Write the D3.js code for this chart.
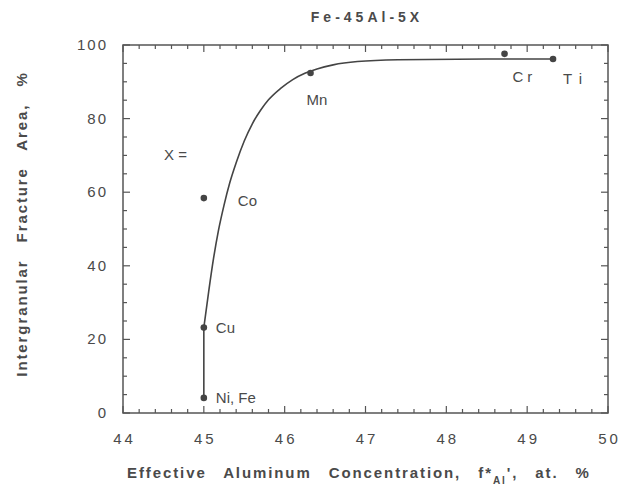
<!DOCTYPE html>
<html><head><meta charset="utf-8">
<script src="https://cdn.jsdelivr.net/npm/d3@7"></script>
<style>
body{margin:0;background:#fff;}
text{font-family:"Liberation Sans",Arial,sans-serif;fill:#4a4a4a;}
</style></head>
<body><svg id="c" width="627" height="492"></svg>
<script>
// data
const pointLabels = ["Ni, Fe","Cu","Co","Mn","Cr","Ti"];
const pointX = [45.0, 45.0, 45.0, 46.32, 48.72, 49.32];
const pointY = [4.1, 23.2, 58.4, 92.4, 97.6, 96.2];
// fitted curve: straight from Ni,Fe to Cu, then smooth rise to plateau
const curveX = [45.0, 45.0, 45.06, 45.12, 45.18, 45.25, 45.32, 45.4, 45.5, 45.6, 45.7, 45.8, 45.95, 46.1, 46.25, 46.4, 46.6, 46.9, 47.4, 48.5, 49.32];
const curveY = [4.1, 23.2, 33, 42, 49.5, 56.5, 62.5, 68, 73.9, 78.6, 82.2, 85.1, 88.2, 90.6, 92.3, 93.5, 94.6, 95.5, 96.0, 96.2, 96.2];
const xTicks = [44,45,46,47,48,49,50];
const yTicks = [0,20,40,60,80,100];

const svg = d3.select("#c");
const L=123, R=608, T=45, B=413;
const x = d3.scaleLinear().domain([44,50]).range([L,R]);
const y = d3.scaleLinear().domain([0,100]).range([B,T]);

// frame
svg.append("rect").attr("x",L).attr("y",T).attr("width",R-L).attr("height",B-T)
  .attr("fill","none").attr("stroke","#555").attr("stroke-width",1.5);

// ticks
const xMinor = d3.range(44,50.001,0.2);
const yMinor = d3.range(0,100.001,5);
const g = svg.append("g").attr("stroke","#555").attr("stroke-width",1.2);
xMinor.forEach(v=>{
  const maj = Math.abs(v-Math.round(v))<1e-6;
  const len = maj?7:4;
  g.append("line").attr("x1",x(v)).attr("x2",x(v)).attr("y1",B).attr("y2",B-len);
  g.append("line").attr("x1",x(v)).attr("x2",x(v)).attr("y1",T).attr("y2",T+len);
});
yMinor.forEach(v=>{
  const maj = Math.abs(v%20)<1e-6;
  const len = maj?7:4;
  g.append("line").attr("x1",L).attr("x2",L+len).attr("y1",y(v)).attr("y2",y(v));
  g.append("line").attr("x1",R).attr("x2",R-len).attr("y1",y(v)).attr("y2",y(v));
});

// tick labels
svg.append("g").selectAll("text").data(xTicks).join("text")
  .attr("x",d=>x(d)+1.5).attr("y",444).attr("text-anchor","middle")
  .attr("font-size",15).attr("letter-spacing","3px").text(d=>d);
svg.append("g").selectAll("text").data(yTicks).join("text")
  .attr("x",108).attr("y",d=>y(d)+5).attr("text-anchor","end")
  .attr("font-size",15).attr("letter-spacing","2px").text(d=>d);

// curve
const pts = curveX.map((v,i)=>[v,curveY[i]]);
const straight = d3.line().x(d=>x(d[0])).y(d=>y(d[1]));
const smooth = d3.line().x(d=>x(d[0])).y(d=>y(d[1])).curve(d3.curveMonotoneX);
svg.append("path").attr("d",straight(pts.slice(0,2)))
  .attr("fill","none").attr("stroke","#444").attr("stroke-width",1.6);
svg.append("path").attr("d",smooth(pts.slice(1)))
  .attr("fill","none").attr("stroke","#444").attr("stroke-width",1.6);

// points
svg.append("g").selectAll("circle").data(pointX).join("circle")
  .attr("cx",d=>x(d)).attr("cy",(d,i)=>y(pointY[i])).attr("r",3.3).attr("fill","#444");

// point labels
const lblDx=[12,12,34,-4,8,10];
const lblDy=[5,5,8,32,28,25];
const lblLs=["0px","0px","0px","0px","4px","7px"];
svg.append("g").selectAll("text").data(pointLabels).join("text")
  .attr("x",(d,i)=>x(pointX[i])+lblDx[i]).attr("y",(d,i)=>y(pointY[i])+lblDy[i])
  .attr("font-size",15).attr("letter-spacing",(d,i)=>lblLs[i]).text(d=>d);
svg.append("text").attr("x",164).attr("y",160).attr("font-size",15).text("X =");

// title
svg.append("text").attr("x",367).attr("y",22).attr("text-anchor","middle")
  .attr("font-size",14).attr("font-weight","bold").attr("letter-spacing","4px").text("Fe-45Al-5X");

// x label
const xl = svg.append("text").attr("x",127).attr("y",478).attr("font-size",15)
  .attr("font-weight","bold").attr("word-spacing","11px").attr("letter-spacing","1.9px");
xl.append("tspan").text("Effective Aluminum Concentration, f*");
xl.append("tspan").attr("dy",6).attr("font-size",10).text("Al");
xl.append("tspan").attr("dy",-6).text("', at. %");

// y label
svg.append("text").attr("transform","translate(27,224) rotate(-90)").attr("text-anchor","middle")
  .attr("font-size",15).attr("font-weight","bold").attr("word-spacing","11px").attr("letter-spacing","1.9px")
  .text("Intergranular Fracture Area, %");
</script></body></html>
